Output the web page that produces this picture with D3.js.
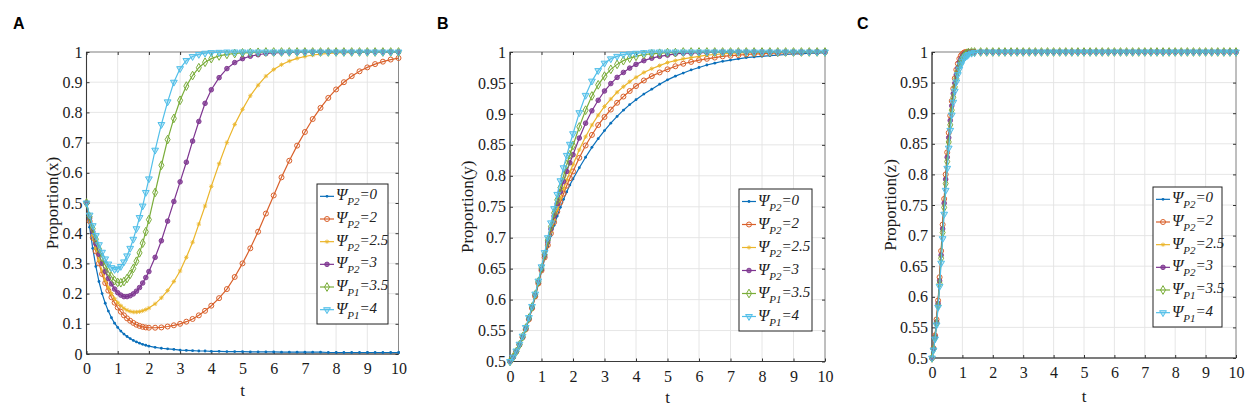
<!DOCTYPE html>
<html><head><meta charset="utf-8">
<script src="https://cdn.jsdelivr.net/npm/d3@7"></script>
<style>
html,body{margin:0;padding:0;background:#fff;}
svg{display:block;}
.serif{font-family:"Liberation Serif","Times New Roman","DejaVu Serif",serif;}
.sans{font-family:"Liberation Sans",Arial,sans-serif;}
</style></head>
<body>
<svg id="chart" width="1248" height="409"></svg>
<script>
// ---------------- DATA ----------------
const panelLetters = ["A", "B", "C"];
const yTitles = ["Proportion(x)", "Proportion(y)", "Proportion(z)"];
const xTitle = "t";
const xTicks = [0,1,2,3,4,5,6,7,8,9,10];
const xTickLabels = ["0","1","2","3","4","5","6","7","8","9","10"];
const yTicksA = [0,0.1,0.2,0.3,0.4,0.5,0.6,0.7,0.8,0.9,1];
const yTickLabelsA = ["0","0.1","0.2","0.3","0.4","0.5","0.6","0.7","0.8","0.9","1"];
const yTicksBC = [0.5,0.55,0.6,0.65,0.7,0.75,0.8,0.85,0.9,0.95,1];
const yTickLabelsBC = ["0.5","0.55","0.6","0.65","0.7","0.75","0.8","0.85","0.9","0.95","1"];
const legendSub = ["P2","P2","P2","P2","P1","P1"];
const legendVal = ["0","2","2.5","3","3.5","4"];

// time grid for panels A and B
const tAB = [0,0.1,0.2,0.3,0.4,0.5,0.6,0.7,0.8,0.9,
  1.0,1.1,1.2,1.3,1.4,1.5,1.6,1.7,1.8,1.9,
  2.0,2.2,2.4,2.6,2.8,3.0,3.2,3.4,3.6,3.8,
  4.0,4.25,4.5,4.75,5.0,5.25,5.5,5.75,6.0,6.25,
  6.5,6.75,7.0,7.25,7.5,7.75,8.0,8.25,8.5,8.75,
  9.0,9.25,9.5,9.75,10];

// Panel A: proportion x
const xPsi0 = [.5,.42,.35,.29,.24,.2,.168,.142,.12,.102,
  .088,.076,.066,.058,.051,.045,.04,.036,.032,.029,
  .026,.022,.019,.017,.015,.013,.012,.011,.010,.010,
  .009,.009,.008,.008,.008,.007,.007,.007,.007,.006,
  .006,.006,.006,.006,.006,.005,.005,.005,.005,.005,
  .005,.005,.005,.005,.005];
const xPsi2 = [.5,.44,.385,.34,.3,.265,.235,.21,.188,.17,
  .154,.14,.128,.118,.11,.103,.097,.093,.09,.088,
  .087,.087,.088,.091,.095,.1,.107,.116,.128,.143,
  .16,.185,.215,.255,.3,.35,.405,.465,.525,.585,
  .64,.69,.735,.778,.815,.848,.876,.9,.92,.936,
  .949,.96,.968,.975,.98];
const xPsi25 = [.5,.445,.395,.35,.31,.275,.245,.22,.2,.183,
  .17,.16,.151,.145,.141,.139,.139,.14,.143,.147,
  .152,.166,.186,.21,.24,.275,.32,.37,.43,.49,
  .555,.63,.7,.76,.81,.855,.89,.92,.942,.958,
  .97,.979,.985,.99,.993,.995,.997,.998,.998,.999,
  .999,.999,1,1,1];
const xPsi3 = [.5,.45,.405,.365,.33,.3,.273,.25,.232,.215,
  .203,.195,.19,.19,.193,.199,.208,.22,.235,.253,
  .273,.32,.375,.44,.505,.57,.635,.705,.77,.83,
  .875,.915,.945,.965,.978,.986,.991,.995,.997,.998,
  .999,.999,1,1,1,1,1,1,1,1,
  1,1,1,1,1];
const xPsi35 = [.5,.455,.415,.38,.348,.32,.295,.273,.256,.243,
  .237,.236,.24,.25,.264,.283,.307,.335,.367,.405,
  .445,.535,.625,.71,.78,.84,.887,.922,.948,.966,
  .978,.987,.992,.995,.997,.998,.999,1,1,1,
  1,1,1,1,1,1,1,1,1,1,
  1,1,1,1,1];
const xPsi4 = [.5,.46,.425,.392,.362,.337,.315,.298,.286,.28,
  .282,.29,.305,.325,.35,.38,.415,.452,.49,.535,
  .58,.675,.76,.835,.9,.945,.972,.985,.992,.996,
  .998,.999,1,1,1,1,1,1,1,1,
  1,1,1,1,1,1,1,1,1,1,
  1,1,1,1,1];

// Panel B: proportion y
const yPsi0 = [.5,.507,.516,.527,.539,.552,.568,.586,.605,.625,
  .646,.666,.685,.703,.72,.735,.749,.762,.774,.785,
  .795,.813,.83,.846,.86,.873,.885,.896,.906,.915,
  .923,.932,.94,.948,.955,.961,.966,.971,.975,.979,
  .982,.985,.987,.989,.991,.992,.993,.994,.995,.996,
  .997,.997,.998,.998,.999];
const yPsi2 = [.5,.507,.516,.527,.539,.552,.568,.586,.605,.626,
  .647,.668,.688,.707,.725,.742,.757,.771,.784,.796,
  .807,.829,.849,.866,.882,.895,.907,.918,.928,.937,
  .945,.954,.961,.967,.972,.977,.981,.984,.987,.989,
  .991,.993,.994,.995,.996,.997,.997,.998,.998,.999,
  .999,.999,1,1,1];
const yPsi25 = [.5,.507,.516,.527,.539,.553,.569,.587,.606,.627,
  .648,.669,.69,.71,.729,.747,.764,.779,.793,.806,
  .818,.842,.863,.882,.898,.912,.924,.935,.944,.952,
  .959,.967,.973,.978,.983,.986,.989,.991,.993,.995,
  .996,.997,.998,.998,.999,.999,.999,1,1,1,
  1,1,1,1,1];
const yPsi3 = [.5,.507,.516,.527,.539,.553,.569,.587,.607,.628,
  .649,.671,.693,.714,.735,.755,.774,.791,.807,.821,
  .834,.861,.885,.905,.922,.937,.949,.959,.967,.974,
  .98,.986,.99,.993,.995,.997,.998,.998,.999,.999,
  1,1,1,1,1,1,1,1,1,1,
  1,1,1,1,1];
const yPsi35 = [.5,.507,.516,.527,.54,.554,.57,.588,.608,.629,
  .651,.673,.696,.718,.74,.761,.781,.8,.818,.834,
  .849,.879,.906,.929,.947,.961,.972,.98,.986,.99,
  .993,.996,.997,.998,.999,.999,1,1,1,1,
  1,1,1,1,1,1,1,1,1,1,
  1,1,1,1,1];
const yPsi4 = [.5,.507,.517,.528,.541,.555,.571,.589,.609,.63,
  .653,.676,.7,.724,.747,.77,.792,.813,.833,.851,
  .868,.902,.93,.953,.97,.982,.989,.993,.996,.997,
  .998,.999,1,1,1,1,1,1,1,1,
  1,1,1,1,1,1,1,1,1,1,
  1,1,1,1,1];

// time grid for panel C
const tC = [0,0.05,0.1,0.15,0.2,0.25,0.3,0.35,0.4,0.45,
  0.5,0.55,0.6,0.65,0.7,0.75,0.8,0.85,0.9,0.95,
  1.0,1.05,1.1,1.15,1.2,1.3,
  1.4,1.6,1.8,2.0,2.2,2.4,2.6,2.8,3.0,3.2,
  3.4,3.6,3.8,4.0,4.2,4.4,4.6,4.8,5.0,5.2,
  5.4,5.6,5.8,6.0,6.2,6.4,6.6,6.8,7.0,7.2,
  7.4,7.6,7.8,8.0,8.2,8.4,8.6,8.8,9.0,9.2,
  9.4,9.6,9.8,10];

// Panel C: proportion z
const zPsi0 = [.5,.515,.535,.56,.59,.628,.67,.713,.755,.794,
  .83,.862,.89,.914,.934,.951,.965,.976,.984,.99,
  .994,.996,.998,.999,1,1,
  1,1,1,1,1,1,1,1,1,1,
  1,1,1,1,1,1,1,1,1,1,
  1,1,1,1,1,1,1,1,1,1,
  1,1,1,1,1,1,1,1,1,1,
  1,1,1,1];
const zPsi2 = [.5,.516,.537,.563,.594,.632,.675,.718,.76,.8,
  .836,.868,.896,.92,.94,.957,.971,.981,.989,.994,
  .997,.999,1,1,1,1,
  1,1,1,1,1,1,1,1,1,1,
  1,1,1,1,1,1,1,1,1,1,
  1,1,1,1,1,1,1,1,1,1,
  1,1,1,1,1,1,1,1,1,1,
  1,1,1,1];
const zPsi25 = [.5,.515,.535,.56,.59,.628,.67,.713,.755,.794,
  .83,.862,.89,.914,.934,.951,.965,.976,.984,.99,
  .994,.996,.998,.999,1,1,
  1,1,1,1,1,1,1,1,1,1,
  1,1,1,1,1,1,1,1,1,1,
  1,1,1,1,1,1,1,1,1,1,
  1,1,1,1,1,1,1,1,1,1,
  1,1,1,1];
const zPsi3 = [.5,.515,.535,.559,.589,.626,.668,.711,.753,.792,
  .828,.86,.888,.912,.932,.949,.963,.974,.983,.989,
  .993,.996,.998,.999,1,1,
  1,1,1,1,1,1,1,1,1,1,
  1,1,1,1,1,1,1,1,1,1,
  1,1,1,1,1,1,1,1,1,1,
  1,1,1,1,1,1,1,1,1,1,
  1,1,1,1];
const zPsi35 = [.5,.514,.533,.557,.586,.622,.663,.705,.746,.785,
  .821,.853,.881,.905,.926,.943,.957,.969,.978,.985,
  .99,.993,.996,.998,.999,1,
  1,1,1,1,1,1,1,1,1,1,
  1,1,1,1,1,1,1,1,1,1,
  1,1,1,1,1,1,1,1,1,1,
  1,1,1,1,1,1,1,1,1,1,
  1,1,1,1];
const zPsi4 = [.5,.513,.531,.554,.583,.617,.655,.695,.735,.774,
  .81,.843,.872,.897,.918,.936,.951,.963,.972,.979,
  .985,.989,.992,.994,.996,.998,
  .999,1,1,1,1,1,1,1,1,1,
  1,1,1,1,1,1,1,1,1,1,
  1,1,1,1,1,1,1,1,1,1,
  1,1,1,1,1,1,1,1,1,1,
  1,1,1,1];

// ---------------- STYLE / LAYOUT ----------------
const colors = ["#0a6fba", "#d9602a", "#ebb52a", "#7e3590", "#7aad3a", "#52bfe9"];
const markers = ["dot", "circle", "star", "fcircle", "diamond", "tridown"];

const panels = [
  {letter: panelLetters[0], letterX: 13, left: 86.5, right: 398.5, top: 52, bottom: 354,
   yDomain: [0, 1], yTicks: yTicksA, yLabels: yTickLabelsA, yTitle: yTitles[0], yTitleX: 52,
   xTitleY: 396, t: tAB, series: [xPsi0, xPsi2, xPsi25, xPsi3, xPsi35, xPsi4],
   legend: {x: 317, y: 184, w: 71, h: 140}},
  {letter: panelLetters[1], letterX: 437, left: 510, right: 825, top: 52, bottom: 361.5,
   yDomain: [0.5, 1], yTicks: yTicksBC, yLabels: yTickLabelsBC, yTitle: yTitles[1], yTitleX: 467,
   xTitleY: 403, t: tAB, series: [yPsi0, yPsi2, yPsi25, yPsi3, yPsi35, yPsi4],
   legend: {x: 739, y: 189, w: 73, h: 142}},
  {letter: panelLetters[2], letterX: 857, left: 932, right: 1236, top: 52, bottom: 358,
   yDomain: [0.5, 1], yTicks: yTicksBC, yLabels: yTickLabelsBC, yTitle: yTitles[2], yTitleX: 890,
   xTitleY: 402, t: tC, series: [zPsi0, zPsi2, zPsi25, zPsi3, zPsi35, zPsi4],
   legend: {x: 1153, y: 187, w: 69, h: 140}}
];

const svg = d3.select("#chart");

function drawMarker(g, type, color, cx, cy) {
  if (type === "dot") {
    g.append("circle").attr("cx", cx).attr("cy", cy).attr("r", 1.4).attr("fill", color);
  } else if (type === "circle") {
    g.append("circle").attr("cx", cx).attr("cy", cy).attr("r", 2.5)
      .attr("fill", "none").attr("stroke", color).attr("stroke-width", 1);
  } else if (type === "fcircle") {
    g.append("circle").attr("cx", cx).attr("cy", cy).attr("r", 2.3)
      .attr("fill", color).attr("fill-opacity", 0.75).attr("stroke", color).attr("stroke-width", 0.9);
  } else if (type === "star") {
    const s = 2.2, d = 1.6;
    g.append("path")
      .attr("d", `M${cx - s},${cy}L${cx + s},${cy}M${cx},${cy - s}L${cx},${cy + s}M${cx - d},${cy - d}L${cx + d},${cy + d}M${cx - d},${cy + d}L${cx + d},${cy - d}`)
      .attr("stroke", color).attr("stroke-width", 0.8).attr("fill", "none");
  } else if (type === "diamond") {
    g.append("path").attr("d", d3.symbol().type(d3.symbolDiamond).size(22)())
      .attr("transform", `translate(${cx},${cy})`)
      .attr("fill", "none").attr("stroke", color).attr("stroke-width", 1);
  } else if (type === "tridown") {
    g.append("path").attr("d", d3.symbol().type(d3.symbolTriangle).size(20)())
      .attr("transform", `translate(${cx},${cy}) rotate(180)`)
      .attr("fill", color).attr("fill-opacity", 0.35).attr("stroke", color).attr("stroke-width", 1);
  }
}

panels.forEach(p => {
  const x = d3.scaleLinear().domain([0, 10]).range([p.left, p.right]);
  const y = d3.scaleLinear().domain(p.yDomain).range([p.bottom, p.top]);
  const g = svg.append("g");

  // panel letter
  g.append("text").attr("class", "sans").attr("x", p.letterX).attr("y", 29).text(p.letter)
    .attr("font-weight", "bold").attr("font-size", 16).attr("fill", "#000");

  // grid
  g.selectAll(".gx").data(xTicks).enter().append("line")
    .attr("x1", d => x(d)).attr("x2", d => x(d)).attr("y1", p.top).attr("y2", p.bottom)
    .attr("stroke", "#e3e3e3").attr("stroke-width", 0.9);
  g.selectAll(".gy").data(p.yTicks).enter().append("line")
    .attr("y1", d => y(d)).attr("y2", d => y(d)).attr("x1", p.left).attr("x2", p.right)
    .attr("stroke", "#e3e3e3").attr("stroke-width", 0.9);

  // box
  g.append("rect").attr("x", p.left).attr("y", p.top)
    .attr("width", p.right - p.left).attr("height", p.bottom - p.top)
    .attr("fill", "none").attr("stroke", "#8a8a8a").attr("stroke-width", 1);
  g.append("line").attr("x1", p.left).attr("x2", p.right).attr("y1", p.bottom).attr("y2", p.bottom)
    .attr("stroke", "#3a3a3a").attr("stroke-width", 1.1);
  g.append("line").attr("x1", p.left).attr("x2", p.left).attr("y1", p.top).attr("y2", p.bottom)
    .attr("stroke", "#3a3a3a").attr("stroke-width", 1.1);

  // axes via d3 axis (inward ticks)
  const tickLen = 3;
  const axB = g.append("g").attr("transform", `translate(0,${p.bottom})`)
    .call(d3.axisBottom(x).tickValues(xTicks).tickSize(-tickLen).tickPadding(9)
      .tickFormat((d, i) => xTickLabels[i]));
  const axT = g.append("g").attr("transform", `translate(0,${p.top})`)
    .call(d3.axisTop(x).tickValues(xTicks).tickSize(-tickLen).tickFormat(""));
  const axL = g.append("g").attr("transform", `translate(${p.left},0)`)
    .call(d3.axisLeft(y).tickValues(p.yTicks).tickSize(-tickLen).tickPadding(4)
      .tickFormat((d, i) => p.yLabels[i]));
  const axR = g.append("g").attr("transform", `translate(${p.right},0)`)
    .call(d3.axisRight(y).tickValues(p.yTicks).tickSize(-tickLen).tickFormat(""));
  [axB, axT, axL, axR].forEach(a => {
    a.attr("font-family", null).attr("font-size", null);
    a.select(".domain").remove();
    a.selectAll(".tick line").attr("stroke", "#333").attr("stroke-width", 1);
    a.selectAll("text").attr("class", "serif").attr("font-size", 16).attr("fill", "#1a1a1a");
  });
  axB.selectAll("text").attr("dy", "0.71em");

  // axis titles
  g.append("text").attr("class", "serif").attr("x", (p.left + p.right) / 2).attr("y", p.xTitleY)
    .attr("text-anchor", "middle").attr("font-size", 17)
    .attr("fill", "#1a1a1a").text(xTitle);
  g.append("text").attr("class", "serif")
    .attr("transform", `translate(${p.yTitleX},${(p.top + p.bottom) / 2}) rotate(-90)`)
    .attr("text-anchor", "middle").attr("dy", "0.35em")
    .attr("font-size", 17).attr("fill", "#1a1a1a").text(p.yTitle);

  // series
  const line = d3.line().x(d => x(d[0])).y(d => y(d[1]));
  p.series.forEach((vals, si) => {
    const n = Math.min(vals.length, p.t.length);
    const pts = d3.range(n).map(i => [p.t[i], vals[i]]);
    const sg = g.append("g");
    sg.append("path").datum(pts).attr("d", line)
      .attr("fill", "none").attr("stroke", colors[si]).attr("stroke-width", 1.2);
    pts.forEach(d => drawMarker(sg, markers[si], colors[si], x(d[0]), y(d[1])));
  });

  // legend
  const L = p.legend;
  const lg = g.append("g");
  lg.append("rect").attr("x", L.x).attr("y", L.y).attr("width", L.w).attr("height", L.h)
    .attr("fill", "#fff").attr("stroke", "#222").attr("stroke-width", 1);
  const rowH = (L.h - 4) / 6;
  legendSub.forEach((sub, i) => {
    const cy = L.y + 2 + rowH * (i + 0.5) - 1;
    lg.append("line").attr("x1", L.x + 3).attr("x2", L.x + 17).attr("y1", cy).attr("y2", cy)
      .attr("stroke", colors[i]).attr("stroke-width", 1.2);
    drawMarker(lg, markers[i], colors[i], L.x + 10, cy);
    const tx = lg.append("text").attr("class", "serif").attr("x", L.x + 19).attr("y", cy + 4)
      .attr("font-style", "italic").attr("fill", "#222");
    tx.append("tspan").attr("font-size", 16).text("Ψ");
    tx.append("tspan").attr("font-size", 11).attr("dy", 5).text(sub);
    tx.append("tspan").attr("font-size", 15).attr("dy", -6).text("=" + legendVal[i]);
  });
});
</script>
</body></html>
